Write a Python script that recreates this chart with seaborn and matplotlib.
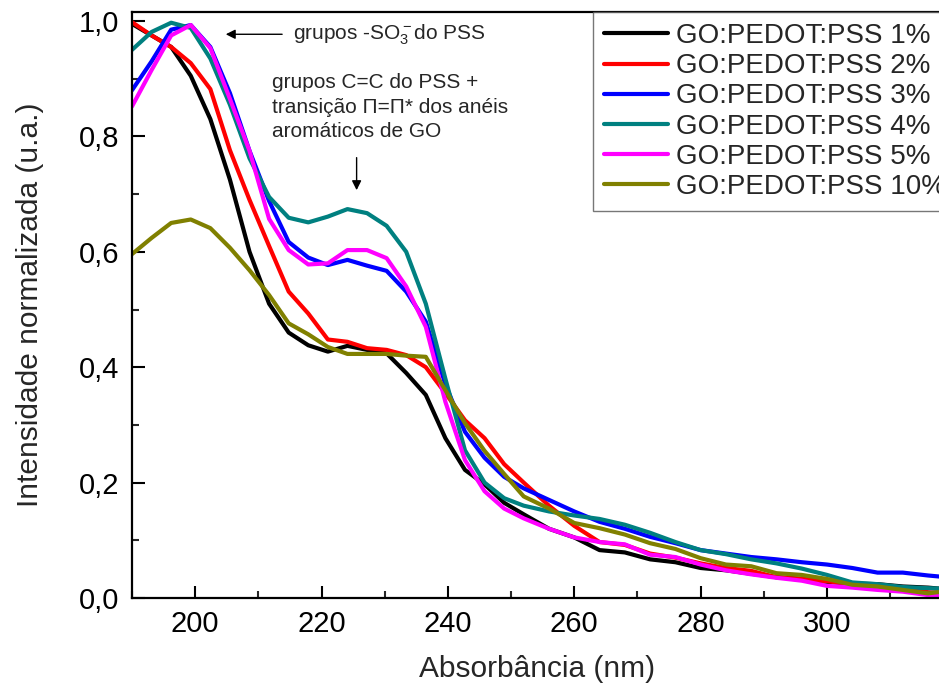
import numpy as np
import pandas as pd
import matplotlib
matplotlib.use("Agg")
import matplotlib.pyplot as plt
from matplotlib.ticker import MultipleLocator
import seaborn as sns

wavelength = [190.0, 193.1, 196.2, 199.3, 202.4, 205.5, 208.6, 211.7, 214.8, 217.9,
              221.0, 224.1, 227.2, 230.3, 233.4, 236.5, 239.6, 242.7, 245.8, 248.9,
              252, 256, 260, 264, 268, 272, 276, 280, 284, 288,
              292, 296, 300, 304, 308, 312, 316, 319]

go_1 = [0.995, 0.975, 0.955, 0.905, 0.83, 0.725, 0.60, 0.51, 0.46, 0.438,
        0.427, 0.437, 0.43, 0.424, 0.39, 0.352, 0.277, 0.222, 0.197, 0.165,
        0.145, 0.12, 0.105, 0.083, 0.079, 0.067, 0.062, 0.052, 0.048, 0.042,
        0.036, 0.033, 0.028, 0.025, 0.024, 0.020, 0.018, 0.015]
go_2 = [0.998, 0.975, 0.955, 0.927, 0.882, 0.776, 0.69, 0.61, 0.531, 0.493,
        0.448, 0.444, 0.433, 0.43, 0.421, 0.40, 0.355, 0.308, 0.277, 0.232,
        0.20, 0.16, 0.125, 0.097, 0.092, 0.077, 0.07, 0.06, 0.052, 0.047,
        0.036, 0.033, 0.029, 0.024, 0.019, 0.018, 0.010, 0.008]
go_3 = [0.88, 0.93, 0.985, 0.993, 0.955, 0.875, 0.775, 0.688, 0.617, 0.59,
        0.577, 0.586, 0.576, 0.567, 0.531, 0.479, 0.37, 0.288, 0.243, 0.21,
        0.19, 0.17, 0.15, 0.132, 0.12, 0.106, 0.095, 0.083, 0.077, 0.071,
        0.067, 0.062, 0.058, 0.052, 0.044, 0.044, 0.039, 0.036]
go_4 = [0.95, 0.981, 0.997, 0.988, 0.935, 0.855, 0.762, 0.695, 0.659, 0.651,
        0.661, 0.674, 0.667, 0.645, 0.60, 0.51, 0.38, 0.256, 0.20, 0.173,
        0.16, 0.15, 0.143, 0.137, 0.127, 0.113, 0.097, 0.083, 0.076, 0.067,
        0.06, 0.051, 0.04, 0.027, 0.024, 0.019, 0.017, 0.016]
go_5 = [0.852, 0.915, 0.975, 0.993, 0.953, 0.865, 0.775, 0.657, 0.603, 0.578,
        0.58, 0.603, 0.603, 0.589, 0.54, 0.47, 0.34, 0.239, 0.185, 0.155,
        0.138, 0.12, 0.105, 0.097, 0.093, 0.075, 0.071, 0.058, 0.048, 0.041,
        0.035, 0.03, 0.021, 0.018, 0.014, 0.011, 0.005, 0.002]
go_10 = [0.596, 0.624, 0.65, 0.656, 0.641, 0.607, 0.568, 0.525, 0.476, 0.457,
         0.435, 0.423, 0.423, 0.423, 0.42, 0.418, 0.36, 0.303, 0.255, 0.215,
         0.176, 0.155, 0.13, 0.121, 0.11, 0.095, 0.085, 0.069, 0.058, 0.055,
         0.043, 0.04, 0.033, 0.023, 0.02, 0.014, 0.008, 0.012]

series_labels = ["GO:PEDOT:PSS 1%", "GO:PEDOT:PSS 2%", "GO:PEDOT:PSS 3%",
                 "GO:PEDOT:PSS 4%", "GO:PEDOT:PSS 5%", "GO:PEDOT:PSS 10%"]
series_values = [go_1, go_2, go_3, go_4, go_5, go_10]
colors = ["#000000", "#FF0000", "#0000FF", "#008080", "#FF00FF", "#808000"]

x_ticks = [200, 220, 240, 260, 280, 300]
x_tick_labels = ["200", "220", "240", "260", "280", "300"]
y_ticks = [0.0, 0.2, 0.4, 0.6, 0.8, 1.0]
y_tick_labels = ["0,0", "0,2", "0,4", "0,6", "0,8", "1,0"]

df = pd.concat([pd.DataFrame({"wl": wavelength, "val": v, "serie": lab})
                for lab, v in zip(series_labels, series_values)], ignore_index=True)

sns.set_theme(style="ticks")
plt.rcParams["font.family"] = ["Liberation Sans", "DejaVu Sans"]
plt.rcParams["mathtext.fontset"] = "custom"
plt.rcParams["mathtext.rm"] = "Liberation Sans"
plt.rcParams["mathtext.it"] = "Liberation Sans:italic"

fig = plt.figure(figsize=(9.39, 6.88), dpi=100)
ax = fig.add_axes([132 / 939, 90 / 688, 810 / 939, 586 / 688])

sns.lineplot(data=df, x="wl", y="val", hue="serie", palette=colors, linewidth=3,
             estimator=None, sort=False, ax=ax, legend=True)

ax.set_xlim(190, 318.2)
ax.set_ylim(0, 1.0156)
ax.set_xticks(x_ticks, x_tick_labels)
ax.set_yticks(y_ticks, y_tick_labels)
ax.xaxis.set_minor_locator(MultipleLocator(10))
ax.yaxis.set_minor_locator(MultipleLocator(0.1))
ax.tick_params(which="major", direction="in", length=9, width=1.5, labelsize=21,
               pad=9, top=False, right=False, colors="black")
ax.tick_params(which="minor", direction="in", length=5, width=1.5, top=False, right=False)
for s in ax.spines.values():
    s.set_linewidth(1.6)
    s.set_color("black")

ax.set_xlabel("Absorbância (nm)", fontsize=21.5, labelpad=12)
ax.set_ylabel("Intensidade normalizada (u.a.)", fontsize=21.5, labelpad=25)

handles, labels = ax.get_legend_handles_labels()
leg = ax.legend(handles, labels, loc="upper left", bbox_to_anchor=(461 / 810, 1.0),
                borderaxespad=0, fontsize=20, labelspacing=0.15, handlelength=2.3,
                handletextpad=0.3, borderpad=0.4, frameon=True, fancybox=False)
leg.get_frame().set_edgecolor("#555555")
leg.get_frame().set_linewidth(1.0)
for line in leg.get_lines():
    line.set_linewidth(3)

ax.annotate("", xy=(204.4, 0.977), xytext=(214.2, 0.977),
            arrowprops=dict(arrowstyle="-|>", color="black", lw=1, mutation_scale=14))
ax.text(215.5, 0.977, r"grupos -SO$\mathregular{_3^-}$do PSS", fontsize=15,
        va="center", ha="left")
ax.text(212.2, 0.91, "grupos C=C do PSS +\ntransição Π=Π* dos anéis\naromáticos de GO",
        fontsize=15, va="top", ha="left", linespacing=1.38)
ax.annotate("", xy=(225.55, 0.702), xytext=(225.55, 0.768),
            arrowprops=dict(arrowstyle="-|>", color="black", lw=1, mutation_scale=14))

fig.savefig("out.png", dpi=100)
